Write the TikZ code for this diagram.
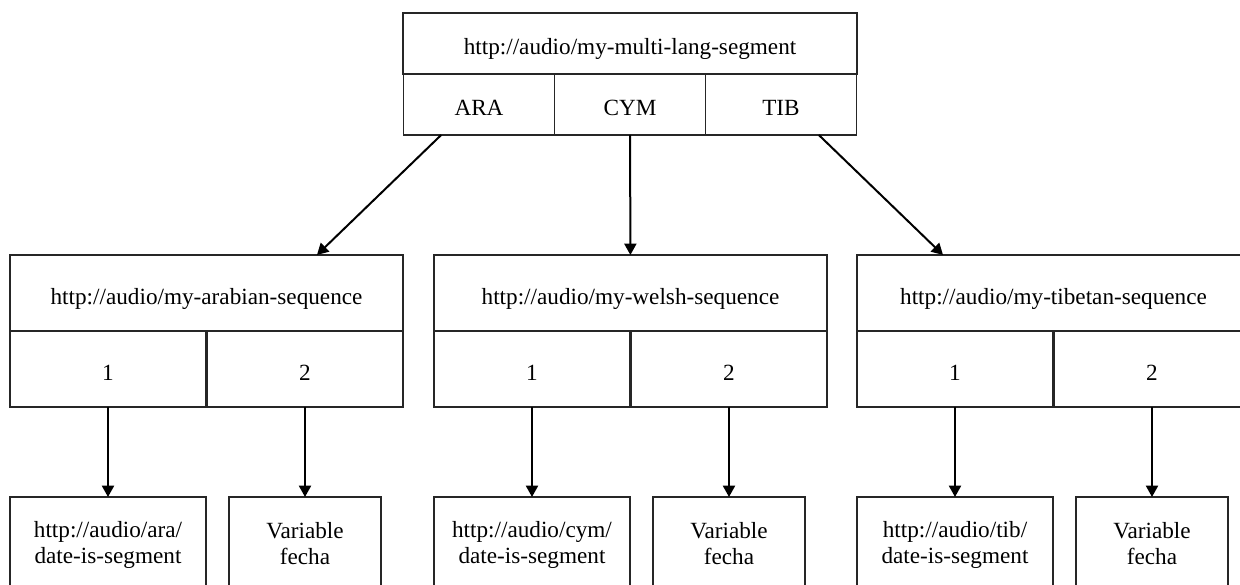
\documentclass[tikz,border=0pt]{standalone}
\usepackage{fontspec}
\setmainfont{Liberation Serif}
\usetikzlibrary{arrows.meta,calc}
\newcommand{\twolines}[2]{\rule{0pt}{15pt}#1\\#2\rule[-3pt]{0pt}{3pt}}
\begin{document}
\begin{tikzpicture}[x=0.75pt,y=-0.75pt,
  cellbase/.style={draw=black!85, line width=0.9pt, inner sep=0pt, outer sep=0pt, align=center,
    font=\fontsize{17.4}{19.5}\selectfont},
  cell/.style={cellbase, text height=19.5pt, text depth=3pt},
  leaf/.style={cellbase, minimum height=69pt},
  arr/.style={line width=1.5pt, -{Triangle[length=8.5pt,width=9pt]}}]
\fill[white] (0,0) rectangle (1240,585);
\useasboundingbox (0,0) rectangle (1240,585);
% top box
\node[cell, minimum width=340.5pt, minimum height=45.75pt] (top) at (630,43.5) {http://audio/my-multi-lang-segment};
\node[cell, minimum width=113.5pt, minimum height=45.75pt] (ara) at (479,104.5) {ARA};
\node[cell, minimum width=113.5pt, minimum height=45.75pt] (cym) at (630,104.5) {CYM};
\node[cell, minimum width=113.5pt, minimum height=45.75pt] (tib) at (781,104.5) {TIB};
% groups
\foreach \L/\n/\head/\url in {10/ara/my-arabian-sequence/ara, 434/cym/my-welsh-sequence/cym, 857/tib/my-tibetan-sequence/tib} {
  \node[cell, minimum width=294.75pt, minimum height=57pt] (\n-h) at (\L+196.5,293) {http://audio/\head};
  \node[cell, minimum width=147pt, minimum height=57pt] (\n-1) at (\L+98,369) {1};
  \node[cell, minimum width=147pt, minimum height=57pt] (\n-2) at (\L+295,369) {2};
  \node[leaf, minimum width=147pt] (\n-a) at (\L+98,543) {\twolines{http://audio/\url/}{date-is-segment}};
  \node[leaf, minimum width=114pt] (\n-b) at (\L+295,543) {\twolines{Variable}{fecha}};
  \draw[arr] (\n-1) -- (\n-a);
  \draw[arr] (\n-2) -- (\n-b);
}
\draw[arr] ($(ara.south west)!0.25!(ara.south east)$) -- ($(ara-h.north west)!0.781!(ara-h.north east)$);
\draw[arr] (cym) -- (cym-h);
\draw[arr] ($(tib.south west)!0.75!(tib.south east)$) -- ($(tib-h.north west)!0.219!(tib-h.north east)$);
\end{tikzpicture}
\end{document}
